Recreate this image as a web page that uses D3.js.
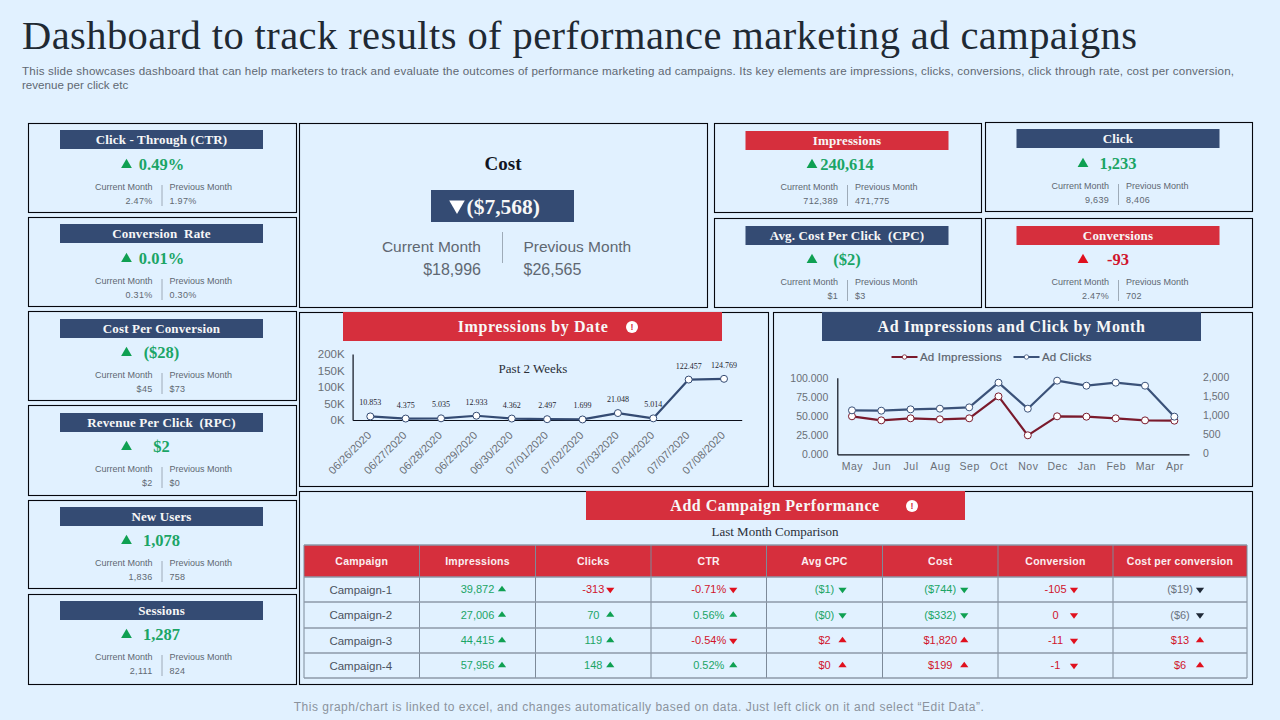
<!DOCTYPE html>
<html>
<head>
<meta charset="utf-8">
<title>Dashboard to track results of performance marketing ad campaigns</title>
<script src="https://cdn.jsdelivr.net/npm/d3@7"></script>
<style>
	html, body { margin: 0; padding: 0; background: #e1f1ff; overflow: hidden; }
	svg { display: block; }
	text { font-family: "Liberation Sans", Arial, sans-serif; }
	.serif { font-family: "Liberation Serif", serif; }
</style>
</head>
<body>
<div id="chart"></div>
<script>
// kpi cards
const cardTitles = ["Click - Through (CTR)", "Conversion  Rate", "Cost Per Conversion", "Revenue Per Click  (RPC)", "New Users", "Sessions", "Impressions", "Click", "Avg. Cost Per Click  (CPC)", "Conversions"];
const cardDeltas = ["0.49%", "0.01%", "($28)", "$2", "1,078", "1,287", "240,614", "1,233", "($2)", "-93"];
const cardCurrent = ["2.47%", "0.31%", "$45", "$2", "1,836", "2,111", "712,389", "9,639", "$1", "2.47%"];
const cardPrevious = ["1.97%", "0.30%", "$73", "$0", "758", "824", "471,775", "8,406", "$3", "702"];
const cardTones = ["good", "good", "good", "good", "good", "good", "good", "good", "good", "bad"];
const cardHeaderTones = ["navy", "navy", "navy", "navy", "navy", "navy", "red", "navy", "navy", "red"];

const costDelta = "($7,568)";
const costCurrent = "$18,996";
const costPrevious = "$26,565";

// impressions by date
const dates = ["06/26/2020", "06/27/2020", "06/28/2020", "06/29/2020", "06/30/2020", "07/01/2020", "07/02/2020", "07/03/2020", "07/04/2020", "07/07/2020", "07/08/2020"];
const dateImpressions = [10853, 4375, 5035, 12933, 4362, 2497, 1699, 21048, 5014, 122457, 124769];
const dateTicks = [0, 50000, 100000, 150000, 200000];

// ad impressions and clicks by month
const months = ["May", "Jun", "Jul", "Aug", "Sep", "Oct", "Nov", "Dec", "Jan", "Feb", "Mar", "Apr"];
const adImpressions = [49600, 44300, 47000, 45700, 47000, 75600, 24800, 49600, 49100, 47000, 44300, 43900];
const adClicks = [1148, 1139, 1174, 1191, 1226, 1870, 1191, 1922, 1791, 1870, 1791, 983];
const impressionTicks = [0, 25000, 50000, 75000, 100000];
const clickTicks = [0, 500, 1000, 1500, 2000];

// campaign table
const tableColumns = ["Campaign", "Impressions", "Clicks", "CTR", "Avg CPC", "Cost", "Conversion", "Cost per conversion"];
const campaigns = ["Campaign-1", "Campaign-2", "Campaign-3", "Campaign-4"];
const tableValues = [
	["39,872", "27,006", "44,415", "57,956"],
	["-313", "70", "119", "148"],
	["-0.71%", "0.56%", "-0.54%", "0.52%"],
	["($1)", "($0)", "$2", "$0"],
	["($744)", "($332)", "$1,820", "$199"],
	["-105", "0", "-11", "-1"],
	["($19)", "($6)", "$13", "$6"]
];
const tableDirections = [
	["up", "up", "up", "up"],
	["down", "up", "up", "up"],
	["down", "up", "down", "up"],
	["down", "down", "up", "up"],
	["down", "down", "up", "up"],
	["down", "down", "down", "down"],
	["down", "down", "up", "up"]
];
const tableTones = [
	["good", "good", "good", "good"],
	["bad", "good", "good", "good"],
	["bad", "good", "bad", "good"],
	["good", "good", "bad", "bad"],
	["good", "good", "bad", "bad"],
	["bad", "bad", "bad", "bad"],
	["flat", "flat", "bad", "bad"]
];

const titleText = "Dashboard to track results of performance marketing ad campaigns";
const subtitleLines = [
	"This slide showcases dashboard that can help marketers to track and evaluate the outcomes of performance marketing ad campaigns. Its key elements are impressions, clicks, conversions, click through rate, cost per conversion,",
	"revenue per click etc"
];
const footerText = "This graph/chart is linked to excel, and changes automatically based on data. Just left click on it and select “Edit Data”.";

// layout
const width = 1280, height = 720;
const colorNavy = "#344b73", colorRed = "#d62f3d", colorBg = "#e1f1ff";
const toneText = { good: "#1ba566", bad: "#d0142c", flat: "#6b7280" };
const toneMark = { good: "#0fa052", bad: "#e0101e", flat: "#1f2937" };
const grayText = "#5f6872";

const cardLayout = [
	{ x: 28, y: 123, w: 268, h: 89, cx: 161.5, hy: 130, vy: 164 },
	{ x: 28, y: 217, w: 268, h: 89, cx: 161.5, hy: 224, vy: 258 },
	{ x: 28, y: 311, w: 268, h: 89, cx: 161.5, hy: 319, vy: 352 },
	{ x: 28, y: 405, w: 268, h: 90, cx: 161.5, hy: 413, vy: 446 },
	{ x: 28, y: 500, w: 268, h: 88, cx: 161.5, hy: 507, vy: 540 },
	{ x: 28, y: 594, w: 268, h: 90, cx: 161.5, hy: 601, vy: 634 },
	{ x: 714, y: 123, w: 267, h: 89, cx: 847, hy: 131, vy: 164 },
	{ x: 985, y: 122, w: 267, h: 89, cx: 1118, hy: 129, vy: 163 },
	{ x: 714, y: 218, w: 267, h: 89, cx: 847, hy: 226, vy: 259 },
	{ x: 985, y: 218, w: 267, h: 89, cx: 1118, hy: 226, vy: 259 }
];

const svg = d3.select("#chart").append("svg").attr("width", width).attr("height", height);
svg.append("rect").attr("width", width).attr("height", height).attr("fill", colorBg);

const triangle = (size) => d3.symbol().type(d3.symbolTriangle).size(size)();

const addBox = (x, y, w, h) =>
	svg.append("rect")
		.attr("x", x + 0.5).attr("y", y + 0.5).attr("width", w).attr("height", h)
		.attr("fill", colorBg).attr("stroke", "#05070d").attr("stroke-width", 1.1);

const addBanner = (x, y, w, h, fill, label, size, textX, spacing) => {
	svg.append("rect").attr("x", x).attr("y", y).attr("width", w).attr("height", h).attr("fill", fill);
	svg.append("text").attr("class", "serif")
		.attr("x", textX === undefined ? x + w / 2 : textX).attr("y", y + h / 2)
		.attr("dy", "0.35em").attr("text-anchor", "middle")
		.attr("font-size", size).attr("font-weight", "bold").attr("fill", "#f7f7f7")
		.attr("letter-spacing", spacing).attr("xml:space", "preserve")
		.text(label);
};

const addInfoIcon = (x, y) => {
	svg.append("circle").attr("cx", x).attr("cy", y).attr("r", 6).attr("fill", "#fff");
	svg.append("text").attr("x", x).attr("y", y).attr("dy", "0.36em").attr("text-anchor", "middle")
		.attr("font-size", 9).attr("font-weight", "bold").attr("fill", colorRed).text("!");
};

// title block
svg.append("text").attr("class", "serif")
	.attr("x", 22).attr("y", 49).attr("font-size", 40.5).attr("fill", "#1f2933")
	.attr("textLength", 1115).attr("lengthAdjust", "spacing")
	.text(titleText);

svg.append("g").selectAll("text").data(subtitleLines).join("text")
	.attr("x", 22).attr("y", (d, i) => 75 + i * 14)
	.attr("font-size", 11.6).attr("fill", grayText)
	.text((d) => d);
svg.select("g text").attr("textLength", 1212).attr("lengthAdjust", "spacing");

svg.append("text")
	.attr("x", 639).attr("y", 711).attr("text-anchor", "middle")
	.attr("font-size", 12).attr("fill", "#8b939d").attr("letter-spacing", 0.5)
	.text(footerText);

// kpi cards
cardTitles.forEach((cardTitle, i) => {
	const c = cardLayout[i];
	addBox(c.x, c.y, c.w, c.h);
	addBanner(c.cx - 101.5, c.hy, 203, 19, cardHeaderTones[i] === "red" ? colorRed : colorNavy, cardTitle, 13, undefined, 0.15);

	svg.append("path").attr("d", triangle(50))
		.attr("transform", `translate(${c.cx - 35},${c.vy + 1})`)
		.attr("fill", toneMark[cardTones[i]]);
	svg.append("text").attr("class", "serif")
		.attr("x", c.cx).attr("y", c.vy).attr("dy", "0.35em").attr("text-anchor", "middle")
		.attr("font-size", 16.5).attr("font-weight", "bold").attr("fill", toneText[cardTones[i]])
		.text(cardDeltas[i]);

	svg.append("line")
		.attr("x1", c.cx + 0.5).attr("x2", c.cx + 0.5).attr("y1", c.vy + 21).attr("y2", c.vy + 42)
		.attr("stroke", "#8d99a6").attr("stroke-width", 0.8);

	[["Current Month", cardCurrent[i], -9, "end"], ["Previous Month", cardPrevious[i], 8, "start"]].forEach(([label, value, offset, anchor]) => {
		svg.append("text").attr("x", c.cx + offset).attr("y", c.vy + 23).attr("dy", "0.35em")
			.attr("text-anchor", anchor).attr("font-size", 9).attr("fill", grayText).text(label);
		svg.append("text").attr("x", c.cx + offset).attr("y", c.vy + 37).attr("dy", "0.35em")
			.attr("text-anchor", anchor).attr("font-size", 9).attr("letter-spacing", 0.3).attr("fill", grayText).text(value);
	});
});

// cost card
addBox(299, 123, 408, 184);
svg.append("text").attr("class", "serif").attr("x", 503).attr("y", 163).attr("dy", "0.35em")
	.attr("text-anchor", "middle").attr("font-size", 19).attr("font-weight", "bold").attr("fill", "#12161f").text("Cost");
svg.append("rect").attr("x", 431).attr("y", 190).attr("width", 143).attr("height", 32).attr("fill", colorNavy);
svg.append("path").attr("d", triangle(105)).attr("transform", "translate(457,205) rotate(180)").attr("fill", "#fff");
svg.append("text").attr("class", "serif").attr("x", 466.5).attr("y", 206).attr("dy", "0.35em")
	.attr("font-size", 21.5).attr("font-weight", "bold").attr("fill", "#f7f7f7").text(costDelta);
svg.append("line").attr("x1", 502.5).attr("x2", 502.5).attr("y1", 232).attr("y2", 263).attr("stroke", "#8d99a6").attr("stroke-width", 0.8);
[["Current Month", costCurrent, 481, "end"], ["Previous Month", costPrevious, 523.5, "start"]].forEach(([label, value, x, anchor]) => {
	svg.append("text").attr("x", x).attr("y", 247).attr("dy", "0.35em").attr("text-anchor", anchor)
		.attr("font-size", 15.5).attr("fill", grayText).text(label);
	svg.append("text").attr("x", x).attr("y", 269).attr("dy", "0.35em").attr("text-anchor", anchor)
		.attr("font-size", 16).attr("fill", grayText).text(value);
});

// thousands are shown with a dot in both charts
const dotLocale = d3.formatLocale({ decimal: ",", thousands: ".", grouping: [3], currency: ["$", ""] });
const formatDot = (v) => (v === 0 ? "0.000" : dotLocale.format(",")(v));

const styleTicks = (g, size, fill) => {
	g.selectAll(".tick line").remove();
	g.selectAll(".tick text").attr("font-family", "Liberation Sans").attr("font-size", size).attr("fill", fill);
};

const drawSeries = (x, y, values, color, keys) => {
	const line = d3.line().x((d, i) => x(keys[i])).y((d) => y(d));
	svg.append("path").datum(values).attr("d", line)
		.attr("fill", "none").attr("stroke", color).attr("stroke-width", 2.2).attr("stroke-linejoin", "round");
	svg.append("g").selectAll("circle").data(values).join("circle")
		.attr("cx", (d, i) => x(keys[i])).attr("cy", (d) => y(d)).attr("r", 3.5)
		.attr("fill", "#fff").attr("stroke", color).attr("stroke-width", 1);
};

// impressions by date
addBox(299, 312, 469, 174);
addBanner(343, 312, 379, 29, colorRed, "Impressions by Date", 16, 533, 0.6);
addInfoIcon(632, 327);

const xDate = d3.scalePoint().domain(dates).range([352.6, 741.7]).padding(0.5);
const yDate = d3.scaleLinear().domain([0, 200000]).range([420, 354]);

const axisDateY = svg.append("g").attr("transform", "translate(352.6,0)")
	.call(d3.axisLeft(yDate).tickValues(dateTicks).tickSize(0).tickPadding(8).tickFormat((d) => `${d / 1000}K`));
styleTicks(axisDateY, 11.5, "#6a6f76");
axisDateY.select(".domain").attr("stroke", "#0b0f1a").attr("stroke-width", 1.2);

const axisDateX = svg.append("g").attr("transform", "translate(0,420)")
	.call(d3.axisBottom(xDate).tickSize(0));
styleTicks(axisDateX, 11, "#6a6f76");
axisDateX.select(".domain").attr("stroke", "#0b0f1a").attr("stroke-width", 1.2);
axisDateX.selectAll(".tick text")
	.attr("text-anchor", "end").attr("x", 0).attr("y", 0).attr("dy", 0)
	.attr("transform", "translate(1.2,16) rotate(-45)");

drawSeries(xDate, yDate, dateImpressions, colorNavy, dates);

svg.append("g").selectAll("text").data(dateImpressions).join("text")
	.attr("class", "serif")
	.attr("x", (d, i) => xDate(dates[i])).attr("y", (d) => yDate(d) - 11)
	.attr("text-anchor", "middle").attr("font-size", 8).attr("fill", "#1f2530")
	.text((d) => formatDot(d));

svg.append("text").attr("class", "serif").attr("x", 533).attr("y", 368).attr("dy", "0.35em")
	.attr("text-anchor", "middle").attr("font-size", 13).attr("fill", "#2a2f38").text("Past 2 Weeks");

// ad impressions and clicks by month
addBox(773, 312, 479, 174);
addBanner(822, 312, 379, 29, colorNavy, "Ad Impressions and Click by Month", 16, undefined, 0.6);

const xMonth = d3.scalePoint().domain(months).range([837.3, 1189]).padding(0.5);
const yImpressions = d3.scaleLinear().domain([0, 100000]).range([454.3, 377.7]);
const yClicks = d3.scaleLinear().domain([0, 2000]).range([454.3, 377.7]);

const axisMonthLeft = svg.append("g").attr("transform", "translate(837.3,0)")
	.call(d3.axisLeft(yImpressions).tickValues(impressionTicks).tickSize(0).tickPadding(9).tickFormat(formatDot));
styleTicks(axisMonthLeft, 10.5, "#6a6f76");
axisMonthLeft.select(".domain").attr("stroke", "#0b0f1a").attr("stroke-width", 1.2);

const axisMonthRight = svg.append("g").attr("transform", "translate(1189,-1)")
	.call(d3.axisRight(yClicks).tickValues(clickTicks).tickSize(0).tickPadding(14).tickFormat(d3.format(",")));
styleTicks(axisMonthRight, 10.5, "#6a6f76");
axisMonthRight.select(".domain").remove();

const axisMonthX = svg.append("g").attr("transform", "translate(0,454.3)")
	.call(d3.axisBottom(xMonth).tickSize(0).tickPadding(8));
styleTicks(axisMonthX, 10.5, "#6a6f76");
axisMonthX.selectAll(".tick text").attr("letter-spacing", 0.5);
axisMonthX.select(".domain").attr("stroke", "#0b0f1a").attr("stroke-width", 1.2);

drawSeries(xMonth, yImpressions, adImpressions, "#7a1a2c", months);
drawSeries(xMonth, yClicks, adClicks, "#3b5279", months);

[["Ad Impressions", "#7a1a2c", 891.5], ["Ad Clicks", "#3b5279", 1013.5]].forEach(([label, color, x]) => {
	svg.append("line").attr("x1", x).attr("x2", x + 26).attr("y1", 357).attr("y2", 357)
		.attr("stroke", color).attr("stroke-width", 2);
	svg.append("circle").attr("cx", x + 13).attr("cy", 357).attr("r", 2.2)
		.attr("fill", "#fff").attr("stroke", color).attr("stroke-width", 0.8);
	svg.append("text").attr("x", x + 28.5).attr("y", 357).attr("dy", "0.35em")
		.attr("font-size", 11.5).attr("letter-spacing", 0.2).attr("stroke", "#5b636d").attr("stroke-width", 0.2)
		.attr("fill", "#5b636d").text(label);
});

// campaign table
addBox(299, 491, 953, 193);
addBanner(586, 491, 379, 29, colorRed, "Add Campaign Performance", 16, 775, 0.5);
addInfoIcon(912, 506);
svg.append("text").attr("class", "serif").attr("x", 775).attr("y", 531).attr("dy", "0.35em")
	.attr("text-anchor", "middle").attr("font-size", 13).attr("fill", "#2a2f38").text("Last Month Comparison");

const columnEdges = [304, 419.5, 535.5, 651, 766.5, 882.5, 998, 1113, 1247];
const rowEdges = [545, 577, 602, 628, 653, 678];
const markOffsets = [24.5, 17, 24.5, 18, 24, 18.5, 20];
const columnCenter = (i) => (columnEdges[i] + columnEdges[i + 1]) / 2;
const rowCenter = (i) => (rowEdges[i + 1] + rowEdges[i + 2]) / 2;

svg.append("rect").attr("x", columnEdges[0]).attr("y", rowEdges[0])
	.attr("width", columnEdges[8] - columnEdges[0]).attr("height", rowEdges[1] - rowEdges[0]).attr("fill", colorRed);

svg.append("g").selectAll("line").data(columnEdges).join("line")
	.attr("x1", (d) => d).attr("x2", (d) => d).attr("y1", rowEdges[0]).attr("y2", rowEdges[5])
	.attr("stroke", "#7d8a99").attr("stroke-width", 1);
svg.append("g").selectAll("line").data(rowEdges).join("line")
	.attr("x1", columnEdges[0]).attr("x2", columnEdges[8]).attr("y1", (d) => d).attr("y2", (d) => d)
	.attr("stroke", "#8c99a8").attr("stroke-width", 1.4);

svg.append("g").selectAll("text").data(tableColumns).join("text")
	.attr("x", (d, i) => columnCenter(i)).attr("y", (rowEdges[0] + rowEdges[1]) / 2).attr("dy", "0.35em")
	.attr("text-anchor", "middle").attr("font-family", "Lato").attr("font-size", 10.5).attr("font-weight", "bold")
	.attr("letter-spacing", 0.25).attr("fill", "#fbeef0")
	.text((d) => d);

svg.append("g").selectAll("text").data(campaigns).join("text")
	.attr("x", columnCenter(0) - 1).attr("y", (d, i) => rowCenter(i)).attr("dy", "0.35em")
	.attr("text-anchor", "middle").attr("font-size", 11.5).attr("fill", "#4b5360")
	.text((d) => d);

tableValues.forEach((columnValues, col) => {
	columnValues.forEach((value, row) => {
		const tone = tableTones[col][row];
		svg.append("text")
			.attr("x", columnCenter(col + 1)).attr("y", rowCenter(row)).attr("dy", "0.35em")
			.attr("text-anchor", "middle").attr("font-size", 11).attr("fill", toneText[tone])
			.text(value);
		const flip = tableDirections[col][row] === "down" ? " rotate(180)" : "";
		svg.append("path").attr("d", triangle(24))
			.attr("transform", `translate(${columnCenter(col + 1) + markOffsets[col]},${rowCenter(row)})${flip} scale(1.1,0.85)`)
			.attr("fill", toneMark[tone]);
	});
});
</script>
</body>
</html>
